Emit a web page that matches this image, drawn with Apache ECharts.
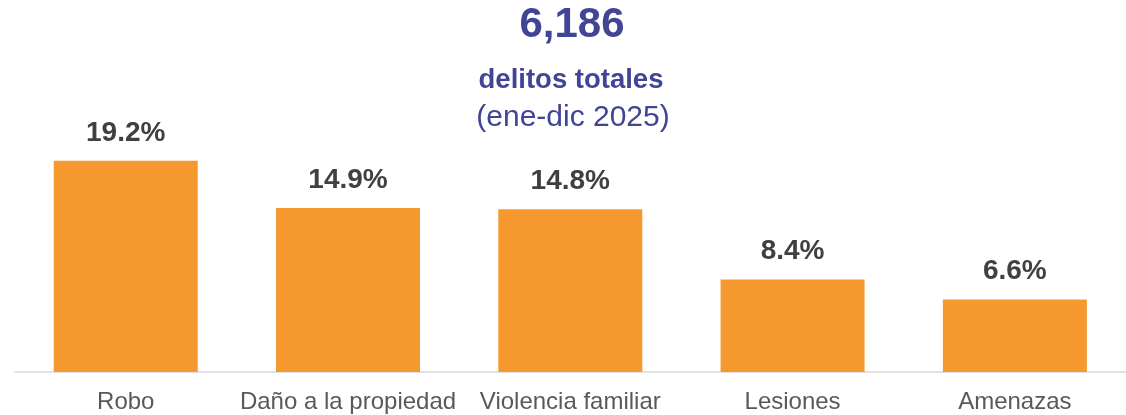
<!DOCTYPE html>
<html>
<head>
<meta charset="utf-8">
<script src="https://cdn.jsdelivr.net/npm/echarts@6/dist/echarts.min.js"></script>
<style>
  html, body { margin: 0; padding: 0; background: #ffffff; }
  #chart { width: 1126px; height: 415px; }
</style>
</head>
<body>
<div id="chart"></div>
<script>
// Delitos por tipo, porcentaje del total (ene-dic 2025)
const categories = ['Robo', 'Daño a la propiedad', 'Violencia familiar', 'Lesiones', 'Amenazas'];
const shares = [19.2, 14.9, 14.8, 8.4, 6.6];
const totalCrimes = '6,186';
const subtitle = 'delitos totales';
const period = '(ene-dic 2025)';

const titleColor = '#414596';
const font = 'Liberation Sans, Arial, sans-serif';

const chart = echarts.init(document.getElementById('chart'), null, { renderer: 'canvas' });

chart.setOption({
  animation: false,
  backgroundColor: '#ffffff',
  grid: { left: 14.6, width: 1113.75, top: 42, height: 330, containLabel: false },
  xAxis: {
    type: 'category',
    data: categories,
    axisLine: { show: true, lineStyle: { color: '#D9D9D9', width: 1.5 } },
    axisTick: { show: false },
    axisLabel: { color: '#595959', fontSize: 24, fontFamily: font, margin: 18, interval: 0 }
  },
  yAxis: {
    type: 'value',
    min: 0,
    max: 30,
    show: false,
    splitLine: { show: false }
  },
  series: [{
    type: 'bar',
    data: shares,
    barWidth: 144,
    itemStyle: { color: '#F5992F' },
    label: {
      show: true,
      position: 'top',
      distance: 14,
      color: '#404040',
      fontSize: 28,
      fontWeight: 'bold',
      fontFamily: font,
      formatter: p => p.value.toFixed(1) + '%'
    }
  }],
  graphic: [
    {
      type: 'text', x: 572, y: 25,
      style: { text: totalCrimes, fill: titleColor, font: 'bold 42px ' + font, textAlign: 'center', textVerticalAlign: 'middle' }
    },
    {
      type: 'text', x: 571, y: 80,
      style: { text: subtitle, fill: titleColor, font: 'bold 27.5px ' + font, textAlign: 'center', textVerticalAlign: 'middle' }
    },
    {
      type: 'text', x: 573, y: 118,
      style: { text: period, fill: titleColor, font: '30px ' + font, textAlign: 'center', textVerticalAlign: 'middle' }
    }
  ]
});
</script>
</body>
</html>
